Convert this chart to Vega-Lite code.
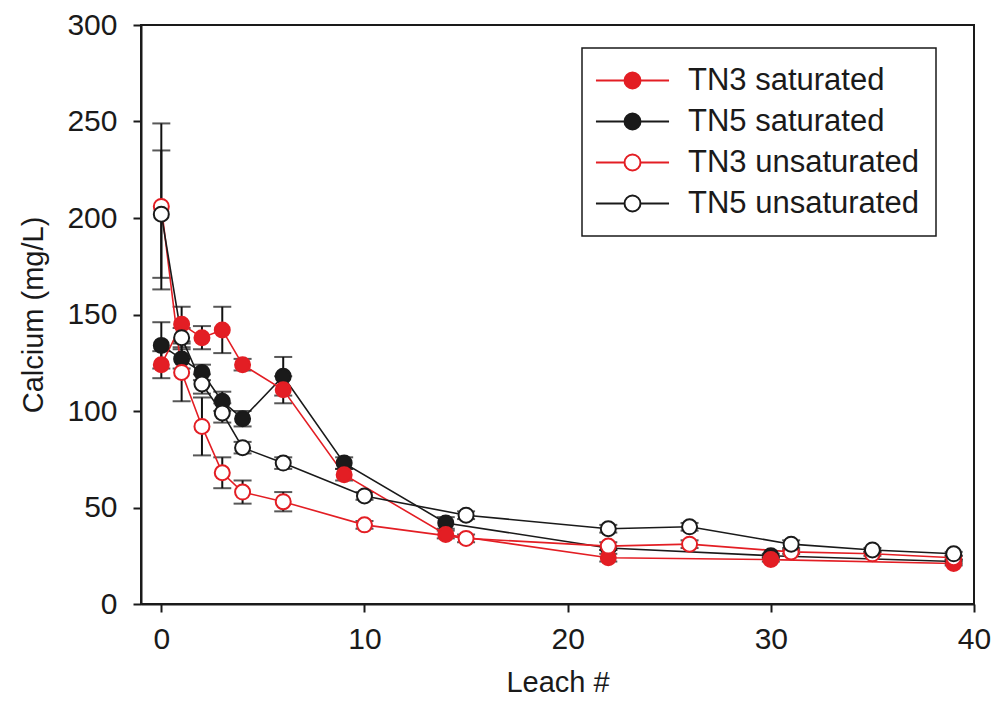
{
  "$schema": "https://vega.github.io/schema/vega-lite/v6.json",
  "width": 833,
  "height": 579,
  "autosize": {"type": "none"},
  "padding": {"left": 141, "top": 25, "right": 20, "bottom": 117},
  "background": "white",
  "config": {
    "font": "Liberation Sans",
    "view": {"stroke": "#1a1a1a", "strokeWidth": 2},
    "axis": {
      "grid": false,
      "domainColor": "#1a1a1a",
      "domainWidth": 2,
      "tickColor": "#1a1a1a",
      "tickWidth": 2,
      "tickSize": 8,
      "labelFont": "Liberation Sans",
      "labelFontSize": 30,
      "labelColor": "#1a1a1a",
      "titleFont": "Liberation Sans",
      "titleFontSize": 29,
      "titleFontWeight": "normal",
      "titleColor": "#1a1a1a",
      "labelFlush": false,
      "labelOverlap": false,
      "labelBound": false
    },
    "legend": {
      "labelFont": "Liberation Sans",
      "labelFontSize": 31,
      "labelLimit": 0,
      "labelColor": "#1a1a1a",
      "strokeColor": "#1a1a1a",
      "strokeWidth": 1.5,
      "fillColor": "white",
      "padding": 17,
      "rowPadding": 9,
      "symbolOffset": 18,
      "labelOffset": 40,
      "symbolStrokeWidth": 2,
      "symbolOpacity": 1
    }
  },
  "data": {
    "values": [
      {"series": "TN5 saturated", "x": 0, "y": 134, "lo": 122, "hi": 146},
      {"series": "TN5 saturated", "x": 1, "y": 127, "lo": 122, "hi": 132},
      {"series": "TN5 saturated", "x": 2, "y": 120, "lo": 116, "hi": 124},
      {"series": "TN5 saturated", "x": 3, "y": 105, "lo": 100, "hi": 110},
      {"series": "TN5 saturated", "x": 4, "y": 96, "lo": 92, "hi": 100},
      {"series": "TN5 saturated", "x": 6, "y": 118, "lo": 108, "hi": 128},
      {"series": "TN5 saturated", "x": 9, "y": 73, "lo": 70, "hi": 76},
      {"series": "TN5 saturated", "x": 14, "y": 42, "lo": 39, "hi": 45},
      {"series": "TN5 saturated", "x": 22, "y": 29, "lo": 28, "hi": 30},
      {"series": "TN5 saturated", "x": 30, "y": 25, "lo": 24, "hi": 26},
      {"series": "TN5 saturated", "x": 39, "y": 22, "lo": 21, "hi": 23},
      {"series": "TN3 saturated", "x": 0, "y": 124, "lo": 117, "hi": 131},
      {"series": "TN3 saturated", "x": 1, "y": 145, "lo": 136, "hi": 154},
      {"series": "TN3 saturated", "x": 2, "y": 138, "lo": 132, "hi": 144},
      {"series": "TN3 saturated", "x": 3, "y": 142, "lo": 130, "hi": 154},
      {"series": "TN3 saturated", "x": 4, "y": 124, "lo": 121, "hi": 127},
      {"series": "TN3 saturated", "x": 6, "y": 111, "lo": 104, "hi": 118},
      {"series": "TN3 saturated", "x": 9, "y": 67, "lo": 64, "hi": 70},
      {"series": "TN3 saturated", "x": 14, "y": 36, "lo": 34, "hi": 38},
      {"series": "TN3 saturated", "x": 22, "y": 24, "lo": 22, "hi": 26},
      {"series": "TN3 saturated", "x": 30, "y": 23, "lo": 22, "hi": 24},
      {"series": "TN3 saturated", "x": 39, "y": 21, "lo": 20, "hi": 22},
      {"series": "TN3 unsaturated", "x": 0, "y": 206, "lo": 163, "hi": 249},
      {"series": "TN3 unsaturated", "x": 1, "y": 120, "lo": 105, "hi": 135},
      {"series": "TN3 unsaturated", "x": 2, "y": 92, "lo": 77, "hi": 107},
      {"series": "TN3 unsaturated", "x": 3, "y": 68, "lo": 60, "hi": 76},
      {"series": "TN3 unsaturated", "x": 4, "y": 58, "lo": 52, "hi": 64},
      {"series": "TN3 unsaturated", "x": 6, "y": 53, "lo": 48, "hi": 58},
      {"series": "TN3 unsaturated", "x": 10, "y": 41, "lo": 39, "hi": 43},
      {"series": "TN3 unsaturated", "x": 15, "y": 34, "lo": 32, "hi": 36},
      {"series": "TN3 unsaturated", "x": 22, "y": 30, "lo": 28, "hi": 32},
      {"series": "TN3 unsaturated", "x": 26, "y": 31, "lo": 29, "hi": 33},
      {"series": "TN3 unsaturated", "x": 31, "y": 27, "lo": 26, "hi": 28},
      {"series": "TN3 unsaturated", "x": 35, "y": 26, "lo": 25, "hi": 27},
      {"series": "TN3 unsaturated", "x": 39, "y": 24, "lo": 23, "hi": 25},
      {"series": "TN5 unsaturated", "x": 0, "y": 202, "lo": 169, "hi": 235},
      {"series": "TN5 unsaturated", "x": 1, "y": 138, "lo": 133, "hi": 143},
      {"series": "TN5 unsaturated", "x": 2, "y": 114, "lo": 109, "hi": 119},
      {"series": "TN5 unsaturated", "x": 3, "y": 99, "lo": 94, "hi": 104},
      {"series": "TN5 unsaturated", "x": 4, "y": 81, "lo": 78, "hi": 84},
      {"series": "TN5 unsaturated", "x": 6, "y": 73, "lo": 70, "hi": 76},
      {"series": "TN5 unsaturated", "x": 10, "y": 56, "lo": 54, "hi": 58},
      {"series": "TN5 unsaturated", "x": 15, "y": 46, "lo": 44, "hi": 48},
      {"series": "TN5 unsaturated", "x": 22, "y": 39, "lo": 37, "hi": 41},
      {"series": "TN5 unsaturated", "x": 26, "y": 40, "lo": 38, "hi": 42},
      {"series": "TN5 unsaturated", "x": 31, "y": 31, "lo": 29, "hi": 33},
      {"series": "TN5 unsaturated", "x": 35, "y": 28, "lo": 27, "hi": 29},
      {"series": "TN5 unsaturated", "x": 39, "y": 26, "lo": 25, "hi": 27}
    ]
  },
  "layer": [
    {
      "mark": {"type": "errorbar", "color": "#111111", "thickness": 2, "ticks": {"size": 18, "thickness": 2, "color": "#111111"}, "rule": {"strokeWidth": 2}},
      "encoding": {
        "x": {"field": "x", "type": "quantitative", "scale": {"domain": [-1, 40], "nice": false}, "axis": {"values": [0, 10, 20, 30, 40], "title": "Leach #", "labelPadding": 12, "titlePadding": 14}},
        "y": {"field": "lo", "type": "quantitative", "scale": {"domain": [0, 300], "nice": false}, "axis": {"values": [0, 50, 100, 150, 200, 250, 300], "title": "Calcium (mg/L)", "labelPadding": 16, "titlePadding": 18}},
        "y2": {"field": "hi"}
      }
    },
    {
      "mark": {"type": "line", "strokeWidth": 1.6},
      "encoding": {
        "x": {"field": "x", "type": "quantitative"},
        "y": {"field": "y", "type": "quantitative", "title": "Calcium (mg/L)"},
        "stroke": {
          "field": "series", "type": "nominal",
          "scale": {"domain": ["TN3 saturated", "TN5 saturated", "TN3 unsaturated", "TN5 unsaturated"], "range": ["#e31e24", "#1a1a1a", "#e31e24", "#1a1a1a"]},
          "legend": {"title": null, "orient": "none", "legendX": 441, "legendY": 23, "symbolType": "M-4.3,0L-0.94,0M0.94,0L4.3,0M-0.94,0A0.94,0.94,0,1,0,0.94,0A0.94,0.94,0,1,0,-0.94,0Z", "symbolSize": 289}
        },
        "detail": {"field": "series"}
      }
    },
    {
      "mark": {"type": "point", "filled": true, "size": 225, "strokeWidth": 2, "opacity": 1, "shape": "circle"},
      "encoding": {
        "x": {"field": "x", "type": "quantitative"},
        "y": {"field": "y", "type": "quantitative", "title": "Calcium (mg/L)"},
        "stroke": {
          "field": "series", "type": "nominal",
          "scale": {"domain": ["TN3 saturated", "TN5 saturated", "TN3 unsaturated", "TN5 unsaturated"], "range": ["#e31e24", "#1a1a1a", "#e31e24", "#1a1a1a"]},
          "legend": {"title": null, "orient": "none", "legendX": 441, "legendY": 23, "symbolType": "M-4.3,0L-0.94,0M0.94,0L4.3,0M-0.94,0A0.94,0.94,0,1,0,0.94,0A0.94,0.94,0,1,0,-0.94,0Z", "symbolSize": 289}
        },
        "fill": {
          "field": "series", "type": "nominal",
          "scale": {"domain": ["TN3 saturated", "TN5 saturated", "TN3 unsaturated", "TN5 unsaturated"], "range": ["#e31e24", "#1a1a1a", "#ffffff", "#ffffff"]},
          "legend": {"title": null, "orient": "none", "legendX": 441, "legendY": 23, "symbolType": "M-4.3,0L-0.94,0M0.94,0L4.3,0M-0.94,0A0.94,0.94,0,1,0,0.94,0A0.94,0.94,0,1,0,-0.94,0Z", "symbolSize": 289}
        }
      }
    }
  ]
}
